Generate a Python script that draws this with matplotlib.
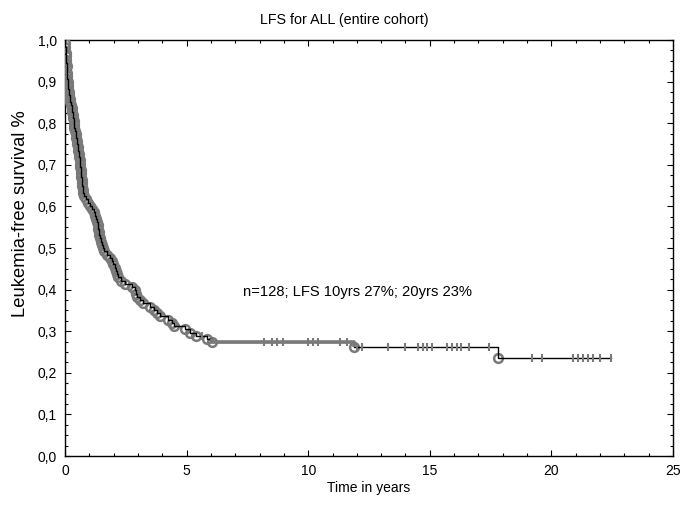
import numpy as np
import matplotlib
matplotlib.use("Agg")
import matplotlib.pyplot as plt
from matplotlib.ticker import MultipleLocator, FuncFormatter

plt.rcParams['font.family'] = ['Liberation Sans', 'DejaVu Sans']

# ---- data ----
n_patients = 128
event_times = [0.01, 0.02, 0.03, 0.03, 0.04, 0.05, 0.06, 0.07, 0.08, 0.08,
               0.09, 0.10, 0.11, 0.12, 0.13, 0.15,
               0.17, 0.19, 0.21, 0.24,
               0.27, 0.29, 0.31, 0.33, 0.35, 0.37, 0.39, 0.41, 0.44,
               0.46, 0.48, 0.50, 0.52,
               0.54, 0.56, 0.58, 0.60, 0.62,
               0.63, 0.64, 0.66, 0.67, 0.68, 0.70,
               0.71, 0.72, 0.74,
               0.80, 0.88,
               0.95, 1.02,
               1.10, 1.18, 1.25,
               1.29, 1.32, 1.34, 1.36,
               1.38, 1.41, 1.44,
               1.48, 1.52,
               1.55, 1.60,
               1.72, 1.83,
               1.92, 1.98, 2.04,
               2.09, 2.13, 2.18,
               2.30, 2.45,
               2.75,
               2.88, 2.93, 2.98,
               3.08, 3.20,
               3.50,
               3.65, 3.80, 3.92,
               4.25,
               4.38, 4.48,
               4.95,
               5.15, 5.38,
               5.85, 6.05,
               11.9,
               17.8]
censor_times = [5.65,
                8.2, 8.5, 8.7, 8.95, 10.0, 10.2, 10.4, 11.3, 11.6,
                12.0, 12.2, 13.3, 14.0, 14.5, 14.7, 14.9, 15.1, 15.7, 15.9,
                16.1, 16.3, 16.6, 17.45,
                19.2, 19.6, 20.9, 21.1, 21.3, 21.5, 21.7, 22.0, 22.45]
annotation = "n=128; LFS 10yrs 27%; 20yrs 23%"
title = "LFS for ALL (entire cohort)"
xlabel = "Time in years"
ylabel = "Leukemia-free survival %"

# ---- Kaplan-Meier estimate ----
ev = np.array(event_times)
ce = np.array(censor_times)
times = np.unique(np.concatenate([ev, ce]))
at_risk = n_patients
s = 1.0
step_t = [0.0]
step_s = [1.0]
ev_pts_t, ev_pts_s = [], []
cen_pts_t, cen_pts_s = [], []
for t in times:
    d = int(np.sum(ev == t))
    c = int(np.sum(ce == t))
    if d > 0:
        step_t.append(t); step_s.append(s)
        s = s * (at_risk - d) / at_risk
        step_t.append(t); step_s.append(s)
        ev_pts_t.append(t); ev_pts_s.append(s)
    if c > 0:
        cen_pts_t += [t] * c
        cen_pts_s += [s] * c
    at_risk -= d + c
step_t.append(times.max()); step_s.append(s)
step_t = np.array(step_t); step_s = np.array(step_s)

# ---- figure ----
fig = plt.figure(figsize=(6.81, 5.07), dpi=100)
ax = fig.add_axes([65/681, 1-456/507, (673-65)/681, (456-40)/507])

gray = '#7a7a7a'
ax.plot(ev_pts_t, ev_pts_s, linestyle='none', marker='o', ms=6.3, mfc='none',
        mec=gray, mew=1.8, zorder=3)
ax.plot(step_t, step_s, color='black', lw=1.0, zorder=4)
# grey thick plateau segment (6-12 yrs)
mask = (step_t >= 6.0) & (step_t <= 11.95)
ax.plot(step_t[mask], step_s[mask], color=gray, lw=2.6, zorder=5,
        solid_capstyle='butt')
ax.plot(cen_pts_t, cen_pts_s, linestyle='none', marker='|', ms=6,
        mec=gray, mew=1.5, zorder=6)

ax.text(7.3, 0.395, annotation, ha='left', va='center', fontsize=10.6)

ax.set_xlim(0, 25)
ax.set_ylim(0, 1.0)
ax.xaxis.set_major_locator(MultipleLocator(5))
ax.xaxis.set_minor_locator(MultipleLocator(1))
ax.yaxis.set_major_locator(MultipleLocator(0.1))
ax.yaxis.set_minor_locator(MultipleLocator(0.025))
ax.yaxis.set_major_formatter(FuncFormatter(lambda v, p: f"{v:.1f}".replace('.', ',')))
ax.xaxis.set_major_formatter(FuncFormatter(lambda v, p: f"{v:.0f}"))
ax.tick_params(which='both', direction='in', top=True, right=True,
               labelsize=10, width=0.8, colors='black')
ax.tick_params(which='major', length=4, pad=6)
ax.tick_params(which='minor', length=2.5)
for sp in ax.spines.values():
    sp.set_linewidth(1.0)

fig.text(344/681, 1-20/507, title, ha='center', va='center', fontsize=10.3)
fig.text(369/681, 1-488/507, xlabel, ha='center', va='center', fontsize=10)
fig.text(21/681, 1-214/507, ylabel, ha='center', va='center', rotation=90,
         fontsize=13.2)

fig.savefig('out.png', dpi=100)
